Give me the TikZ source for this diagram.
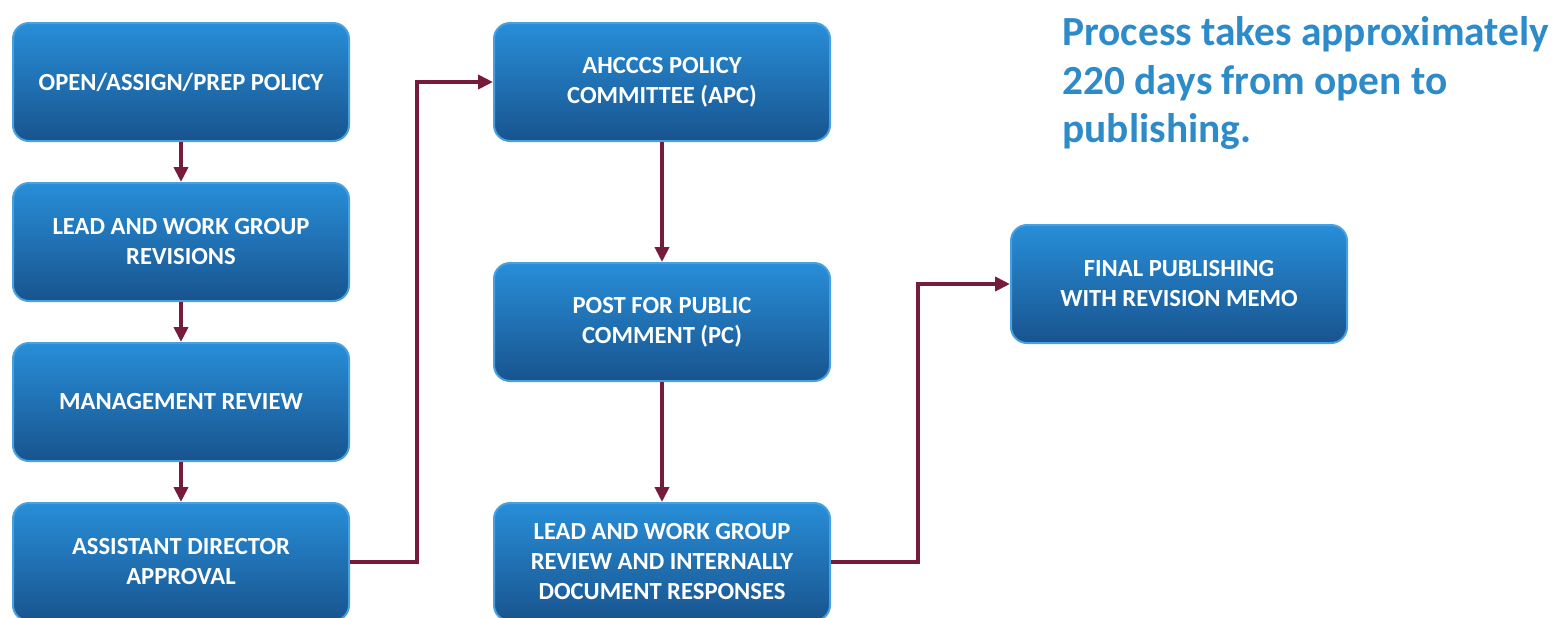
\documentclass[tikz,border=0pt]{standalone}
\usepackage{fontspec}
\setmainfont{Carlito}
\usetikzlibrary{positioning,arrows.meta}
\usepackage{xcolor}
\definecolor{boxtop}{RGB}{40,142,216}
\definecolor{boxbot}{RGB}{24,84,142}
\definecolor{boxline}{RGB}{72,160,224}
\definecolor{flowred}{RGB}{118,28,58}
\definecolor{notecol}{RGB}{46,139,201}

\begin{document}
\begin{tikzpicture}[x=0.5pt,y=-0.5pt,%
		   stage/.style={draw=boxline,line width=1pt,top color=boxtop,bottom color=boxbot,rounded corners=8pt,
		                 minimum width=168pt,minimum height=59pt,align=center,text=white,
		                 font=\bfseries\fontsize{12.3}{15}\selectfont},
		   flow/.style={-{Triangle[length=7.5pt,width=7pt]},line width=2.2pt,draw=flowred},
		   note/.style={anchor=north west,align=left,inner sep=0pt,text=notecol,
		                font=\bfseries\fontsize{20.7}{24.3}\selectfont}]

	\useasboundingbox (0,0) rectangle (1556,617);

	    % first column
	    \foreach \desc [count=\y] in {%
	       OPEN/ASSIGN/PREP POLICY,%
	       {LEAD AND WORK GROUP\\REVISIONS},%
	       MANAGEMENT REVIEW,%
	       {ASSISTANT DIRECTOR\\APPROVAL}%
	       } { \ifnum\y=1 \node[stage,anchor=north west](a-\y) at (12,22) {\desc};
		   \else\node[stage,below=20pt of a-\z](a-\y){\desc};
		   \draw[flow] (a-\z)-- (a-\y);\fi
		   \global\let\z=\y% for drawing from last node
	       }

	    % second column
	    \foreach \desc [count=\y] in {%
	       {AHCCCS POLICY\\COMMITTEE (APC)},%
	       {POST FOR PUBLIC\\COMMENT (PC)},%
	       {LEAD AND WORK GROUP\\REVIEW AND INTERNALLY\\DOCUMENT RESPONSES}%
	       } { \ifnum\y=1 \node[stage,anchor=north west](b-\y) at (493,22) {\desc};
		   \else\node[stage,below=60pt of b-\z](b-\y){\desc};
		   \draw[flow] (b-\z)-- (b-\y);\fi
		   \global\let\z=\y
	       }

	\node[stage,anchor=north west](final) at (1010,224) {FINAL PUBLISHING\\WITH REVISION MEMO};

	\draw[flow] (a-4.east) -- ++(67,0) |- (b-1.west);
	\draw[flow] (b-3.east) -- ++(87,0) |- (final.west);

	\node[note](time) at (1062,16) {Process takes approximately\\220 days from open to\\publishing.};

	\end{tikzpicture}
\end{document}
